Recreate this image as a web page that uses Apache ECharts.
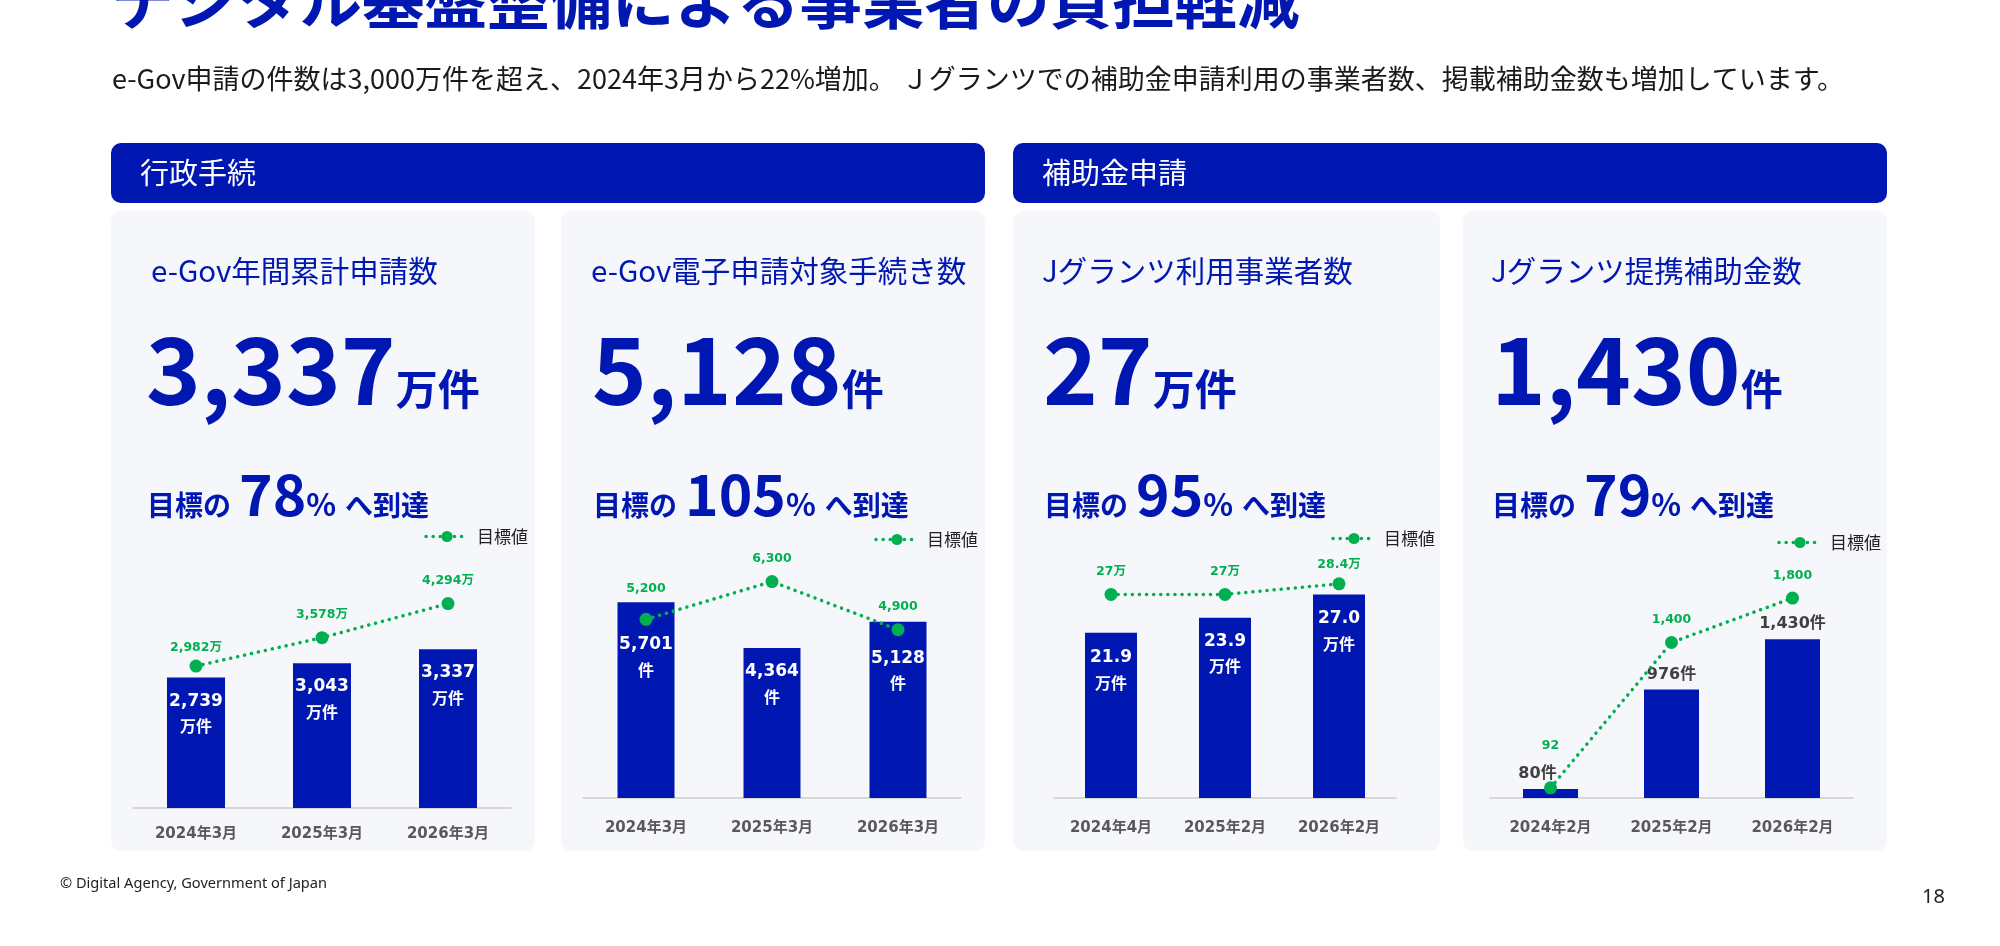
<!DOCTYPE html>
<html>
<head>
<meta charset="utf-8">
<script src="https://cdn.jsdelivr.net/npm/echarts@6/dist/echarts.min.js"></script>
<style>
  html, body { margin: 0; padding: 0; background: #fff; }
  #main { width: 2000px; height: 946px; }
</style>
</head>
<body>
<div id="main"></div>
<script>
// ---- data ----
var egovMonths = ['2024年3月', '2025年3月', '2026年3月'];
var egovApps = [2739, 3043, 3337];            // 万件
var egovAppsTarget = [2982, 3578, 4294];
var egovProcs = [5701, 4364, 5128];           // 件
var egovProcsTarget = [5200, 6300, 4900];
var userMonths = ['2024年4月', '2025年2月', '2026年2月'];
var jgUsers = [21.9, 23.9, 27.0];             // 万件
var jgUsersTarget = [27, 27, 28.4];
var subsidyMonths = ['2024年2月', '2025年2月', '2026年2月'];
var jgSubsidies = [80, 976, 1430];            // 件
var jgSubsidiesTarget = [92, 1400, 1800];

var cardTitles = ['e-Gov年間累計申請数', 'e-Gov電子申請対象手続き数', 'Jグランツ利用事業者数', 'Jグランツ提携補助金数'];
var headline = ['3,337', '5,128', '27', '1,430'];
var headlineUnit = ['万件', '件', '万件', '件'];
var reachPct = ['78', '105', '95', '79'];

var BLUE = '#0017B1';
var GREEN = '#00B050';
var CARD_BG = '#F6F7FA';
var JP = '"Noto Sans CJK JP"';
var LBL = '"DejaVu Sans", "Noto Sans CJK JP"';

function comma(v) {
  return String(v).replace(/\B(?=(\d{3})+(?!\d))/g, ',');
}

// measure text so mixed-size runs share one baseline
var ctx = document.createElement('canvas').getContext('2d');
function runText(x, baseline, parts, color) {
  var els = [];
  parts.forEach(function (p) {
    x += p.gap || 0;
    ctx.font = p.weight + ' ' + p.size + 'px ' + JP;
    ctx.textBaseline = 'middle';
    var w = ctx.measureText(p.text).width;
    var drop = ctx.measureText('H').actualBoundingBoxDescent;
    els.push({
      type: 'text', x: x, y: baseline - drop, z: 10,
      style: {
        text: p.text, fill: color, fontFamily: JP, fontSize: p.size,
        fontWeight: p.weight, verticalAlign: 'middle', align: 'left'
      }
    });
    x += w;
  });
  return els;
}

var cardX = [111, 561, 1013, 1463];
var cardW = [424, 424, 427, 424];
var textX = [151, 591, 1042, 1491];
var runX = [146, 592, 1043, 1491];

var graphics = [];
// page title & lead text
graphics = graphics.concat(runText(112, 24, [{ text: 'デジタル基盤整備による事業者の負担軽減', size: 62.5, weight: 'bold' }], BLUE));
graphics.push({
  type: 'text', x: 112, y: 79,
  style: {
    text: 'e-Gov申請の件数は3,000万件を超え、2024年3月から22%増加。 Ｊグランツでの補助金申請利用の事業者数、掲載補助金数も増加しています。',
    fill: '#1A1A1A', fontFamily: JP, fontSize: 27, verticalAlign: 'middle'
  }
});
// section bars
[[111, '行政手続'], [1013, '補助金申請']].forEach(function (s) {
  graphics.push({ type: 'rect', shape: { x: s[0], y: 143, width: 874, height: 60, r: 10 }, style: { fill: BLUE } });
  graphics.push({
    type: 'text', x: s[0] + 29, y: 173,
    style: { text: s[1], fill: '#fff', fontFamily: JP, fontSize: 29, verticalAlign: 'middle' }
  });
});
// cards
for (var i = 0; i < 4; i++) {
  graphics.push({ type: 'rect', z: -1, shape: { x: cardX[i], y: 211, width: cardW[i], height: 640, r: 10 }, style: { fill: CARD_BG } });
  graphics.push({
    type: 'text', x: textX[i], y: 271, z: 10,
    style: { text: cardTitles[i], fill: BLUE, fontFamily: JP, fontSize: 29.5, verticalAlign: 'middle' }
  });
  graphics = graphics.concat(runText(runX[i], 405, [
    { text: headline[i], size: 93, weight: 'bold' },
    { text: headlineUnit[i], size: 42, weight: 'bold', gap: 0 }
  ], BLUE));
  graphics = graphics.concat(runText(runX[i] + 1, 516, [
    { text: '目標の', size: 28, weight: 'bold' },
    { text: reachPct[i], size: 57, weight: 'bold', gap: 8 },
    { text: '%', size: 31, weight: 'bold' },
    { text: 'へ到達', size: 28, weight: 'bold', gap: 9 }
  ], BLUE));
}
// footer
graphics.push({ type: 'text', x: 60, y: 884, style: { text: '© Digital Agency, Government of Japan', fill: '#222', fontFamily: '"Noto Sans"', fontSize: 14.6, verticalAlign: 'middle' } });
graphics.push({ type: 'text', x: 1922, y: 897, style: { text: '18', fill: '#222', fontFamily: '"Noto Sans"', fontSize: 20, verticalAlign: 'middle' } });

// chart layout per card
var charts = [
  { cats: egovMonths, bars: egovApps, target: egovAppsTarget, left: 133, width: 378, base: 808, height: 238, max: 5000, barW: 58, axisGap: 19,
    inside: true, barFmt: function (v) { return '{n|' + comma(v) + '}\n{u|万件}'; }, tgtFmt: function (v) { return comma(v) + '万'; },
    legendRight: 1467, legendTop: 523, barNudge: [0, 0, 0], tgtNudge: [4, 0, 0] },
  { cats: egovMonths, bars: egovProcs, target: egovProcsTarget, left: 583, width: 378, base: 798, height: 240.5, max: 7000, barW: 57, axisGap: 23,
    inside: true, barFmt: function (v) { return '{n|' + comma(v) + '}\n{u|件}'; }, tgtFmt: function (v) { return comma(v); },
    legendRight: 1017, legendTop: 526, barNudge: [19, 0, 13], tgtNudge: [-8, 0, 0] },
  { cats: userMonths, bars: jgUsers, target: jgUsersTarget, left: 1054, width: 342, base: 798, height: 241.3, max: 32, barW: 52, axisGap: 23,
    inside: true, barFmt: function (v) { return '{n|' + v.toFixed(1) + '}\n{u|万件}'; }, tgtFmt: function (v) { return v + '万'; },
    legendRight: 560, legendTop: 525, barNudge: [1, 0, 1], tgtNudge: [0, 0, 4] },
  { cats: subsidyMonths, bars: jgSubsidies, target: jgSubsidiesTarget, left: 1490, width: 363, base: 798, height: 244.4, max: 2200, barW: 55, axisGap: 23,
    inside: false, barFmt: function (v) { return comma(v) + '件'; }, tgtFmt: function (v) { return comma(v); },
    legendRight: 114, legendTop: 529, barNudge: [0, 0, 0], tgtNudge: [-19, 0, 0], firstShift: -13 }
];

var grid = [], xAxis = [], yAxis = [], series = [], legend = [];
charts.forEach(function (c, k) {
  grid.push({ left: c.left, top: c.base - c.height, width: c.width, height: c.height });
  xAxis.push({
    type: 'category', gridIndex: k, data: c.cats,
    axisLine: { lineStyle: { color: '#CDCDCD', width: 1.5 } },
    axisTick: { show: false },
    axisLabel: { color: '#595959', fontWeight: 'bold', fontSize: 15, fontFamily: LBL, margin: c.axisGap }
  });
  yAxis.push({ type: 'value', gridIndex: k, min: 0, max: c.max, show: false, splitLine: { show: false } });

  var barData = c.bars.map(function (v, i) {
    var item = { value: v };
    if (c.inside) {
      item.label = { distance: 10 + c.barNudge[i] };
    } else if (i === 0 && c.firstShift) {
      item.label = { offset: [c.firstShift, 0] };
    }
    return item;
  });
  series.push({
    type: 'bar', xAxisIndex: k, yAxisIndex: k, data: barData, barWidth: c.barW,
    itemStyle: { color: BLUE },
    label: c.inside ? {
      show: true, position: 'insideTop', color: '#fff', fontFamily: LBL, fontWeight: 'bold',
      formatter: function (p) { return c.barFmt(p.value); },
      rich: {
        n: { color: '#fff', fontFamily: LBL, fontWeight: 'bold', fontSize: 17, lineHeight: 27 },
        u: { color: '#fff', fontFamily: LBL, fontWeight: 'bold', fontSize: 16, lineHeight: 27 }
      }
    } : {
      show: true, position: 'top', distance: 7, color: '#404040', fontFamily: LBL, fontWeight: 'bold', fontSize: 16,
      formatter: function (p) { return c.barFmt(p.value); }
    }
  });
  series.push({
    type: 'line', name: '目標値', xAxisIndex: k, yAxisIndex: k,
    data: c.target.map(function (v, i) {
      return c.tgtNudge[i] ? { value: v, label: { offset: [0, c.tgtNudge[i]] } } : v;
    }),
    symbol: 'circle', symbolSize: 13, z: 5,
    itemStyle: { color: GREEN },
    lineStyle: { color: GREEN, width: 3.5, type: [0.1, 7], cap: 'round' },
    label: {
      show: true, position: 'top', distance: 10, color: GREEN, fontFamily: LBL, fontWeight: 'bold', fontSize: 12.5,
      formatter: function (p) { return c.tgtFmt(p.value); }
    }
  });
  legend.push({
    data: ['目標値'], right: c.legendRight, top: c.legendTop,
    itemWidth: 42, itemHeight: 14,
    lineStyle: { width: 3.5 },
    textStyle: { color: '#222', fontFamily: JP, fontSize: 17, padding: [0, 0, 0, 4] }
  });
});

var chart = echarts.init(document.getElementById('main'));
chart.setOption({
  animation: false,
  backgroundColor: '#fff',
  grid: grid,
  xAxis: xAxis,
  yAxis: yAxis,
  legend: legend,
  series: series,
  graphic: { elements: graphics }
});
</script>
</body>
</html>
